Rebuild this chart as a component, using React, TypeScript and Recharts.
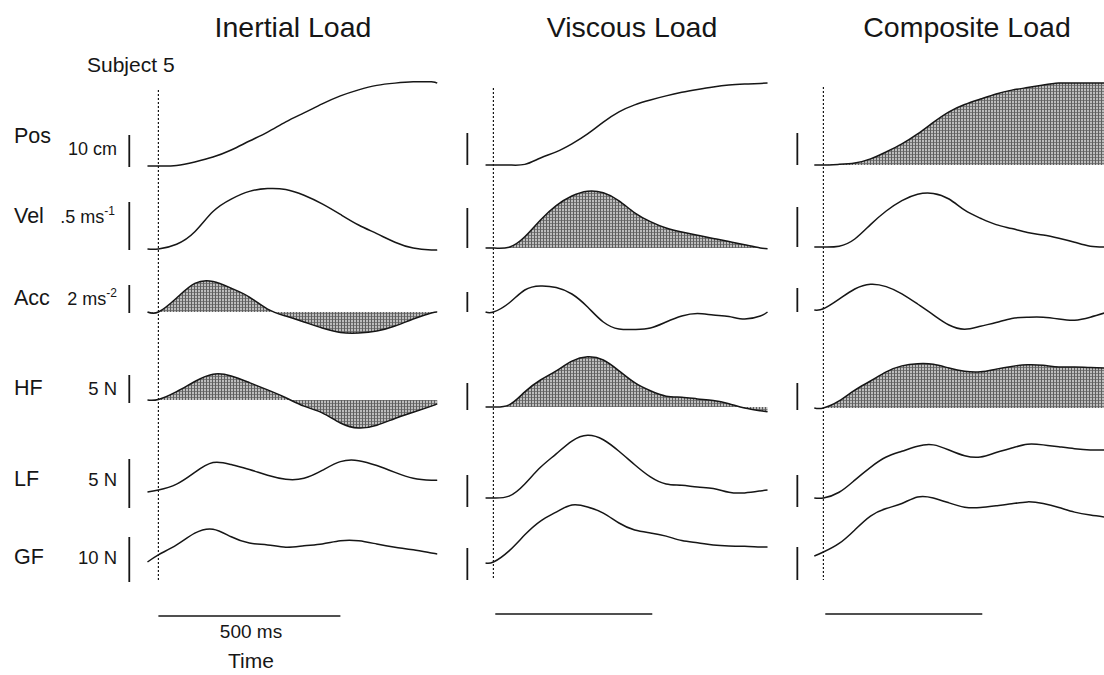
import React from 'react';
import { ComposedChart, Line, Area, XAxis, YAxis, ReferenceLine } from 'recharts';

// Subject 5 traces. Time in ms from movement onset (dotted line).
// Units: Pos cm, Vel m/s, Acc m/s², HF/LF/GF N (LF and GF relative to their start value).

const inertialTime = [-30, 0, 50, 100, 150, 200, 250, 300, 350, 400, 450, 500, 550, 600, 650, 700, 750, 766];
const inertialPos = [0, 0, 0.15, 1.25, 2.8, 5.0, 7.8, 10.6, 13.8, 16.6, 19.4, 21.9, 23.8, 25.2, 25.9, 26.3, 26.3, 25.9];
const inertialVel = [0, 0, 0.05, 0.18, 0.39, 0.52, 0.6, 0.63, 0.62, 0.56, 0.47, 0.36, 0.25, 0.16, 0.07, 0.01, -0.01, -0.01];
const inertialAcc = [0, 0, 1.0, 2.04, 2.18, 1.7, 1.07, 0.21, -0.29, -0.71, -1.14, -1.46, -1.5, -1.36, -1.0, -0.5, -0.07, 0];
const inertialHF = [0, 0.1, 1.5, 3.3, 4.6, 4.3, 3.1, 1.8, 0.4, -1.1, -2.3, -4.1, -5.0, -4.5, -3.3, -2.2, -1.1, -0.7];
const inertialLF = [0, 0.2, 0.8, 2.0, 3.0, 2.8, 2.3, 1.7, 1.3, 1.4, 2.2, 3.1, 3.2, 2.7, 2.0, 1.4, 1.2, 1.2];
const inertialGF = [0, 1.6, 3.8, 6.4, 7.3, 5.6, 4.2, 3.8, 3.3, 3.6, 4.0, 4.7, 4.7, 4.0, 3.3, 2.7, 2.0, 1.8];

const viscousTime = [-25, 0, 50, 100, 150, 200, 250, 300, 350, 400, 450, 500, 550, 600, 650, 700, 750, 800, 850, 873];
const viscousPos = [0, 0, 0, 0.2, 2.2, 4.1, 6.6, 9.7, 13.4, 16.6, 18.8, 20.3, 21.6, 22.7, 23.6, 24.4, 25.0, 25.3, 25.5, 25.6];
const viscousVel = [0, 0, 0.01, 0.14, 0.35, 0.53, 0.65, 0.71, 0.69, 0.59, 0.44, 0.33, 0.25, 0.2, 0.16, 0.12, 0.08, 0.04, 0, -0.01];
const viscousAcc = [0, 0, 0.9, 2.2, 2.6, 2.45, 1.8, 0.5, -1.0, -1.7, -1.75, -1.6, -1.0, -0.4, -0.15, -0.3, -0.45, -0.7, -0.4, 0];
const viscousHF = [0, 0, 0.4, 2.8, 5.0, 6.7, 8.5, 9.3, 8.7, 6.7, 4.5, 3.0, 2.0, 1.8, 1.5, 1.2, 0.6, -0.2, -0.7, -0.9];
const viscousLF = [0, 0, 0.3, 2.2, 4.8, 6.9, 8.9, 9.8, 9.1, 7.3, 5.2, 3.3, 2.2, 2.0, 1.7, 1.5, 0.9, 0.8, 1.1, 1.25];
const viscousGF = [0, 0.3, 3.8, 8.8, 13.1, 15.9, 18.1, 17.5, 15.6, 12.5, 10.3, 9.4, 8.4, 7.0, 6.3, 5.6, 5.3, 5.2, 5.0, 5.0];

const compositeTime = [-29, 0, 50, 100, 150, 200, 250, 300, 350, 400, 450, 500, 550, 600, 650, 700, 750, 800, 850, 895];
const compositePos = [0, 0, 0.2, 0.6, 1.9, 4.1, 6.6, 9.7, 13.3, 16.6, 18.9, 20.6, 22.2, 23.4, 24.2, 25.0, 25.6, 25.6, 25.6, 25.6];
const compositeVel = [0, 0, 0.01, 0.1, 0.28, 0.45, 0.58, 0.66, 0.67, 0.6, 0.46, 0.36, 0.28, 0.23, 0.18, 0.15, 0.11, 0.06, 0.01, 0];
const compositeAcc = [0, 0.1, 0.9, 1.75, 2.15, 1.95, 1.35, 0.5, -0.4, -1.25, -1.6, -1.35, -1.05, -0.7, -0.6, -0.6, -0.75, -0.85, -0.6, -0.25];
const compositeHF = [0, 0, 1.3, 3.3, 5.0, 6.7, 7.8, 8.2, 8.1, 7.4, 6.8, 6.7, 7.2, 7.7, 8.0, 7.9, 7.6, 7.6, 7.5, 7.4];
const compositeLF = [0, 0, 0.9, 2.8, 4.8, 6.4, 7.3, 8.1, 8.3, 7.5, 6.6, 6.4, 7.1, 7.8, 8.4, 8.3, 8.0, 7.7, 7.5, 7.5];
const compositeGF = [0, 1.2, 3.8, 7.9, 12.1, 14.4, 15.9, 17.9, 17.6, 16.1, 14.8, 14.7, 15.2, 15.8, 16.4, 15.9, 14.7, 13.3, 12.4, 11.8];

const ROW_KEYS = ['pos', 'vel', 'acc', 'hf', 'lf', 'gf'] as const;
type RowKey = (typeof ROW_KEYS)[number];

const ROW_LABELS = ['Pos', 'Vel', 'Acc', 'HF', 'LF', 'GF'];
const BAR_VALUES: Record<RowKey, number> = { pos: 10, vel: 0.5, acc: 2, hf: 5, lf: 5, gf: 10 };
const TIME_BAR_MS = 500;

// page layout (px)
const CHART_TOP = 70;
const CHART_BOTTOM = 630;
const FONT = '"Liberation Sans", Arial, Helvetica, sans-serif';
const INK = '#161616';

type RowLayout = { base: number; bar: [number, number] };

const columns = [
  {
    id: 'inertial',
    title: 'Inertial Load',
    titleX: 293,
    time: inertialTime,
    series: { pos: inertialPos, vel: inertialVel, acc: inertialAcc, hf: inertialHF, lf: inertialLF, gf: inertialGF },
    shaded: ['acc', 'hf'],
    zeroX: 158,
    pxPerMs: 0.364,
    tMin: -100,
    tMax: 790,
    barT: -80,
    dotted: [90, 582],
    timeBar: { y: 616, from: 0 },
    rows: {
      pos: { base: 166, bar: [135, 167] },
      vel: { base: 249, bar: [202, 250] },
      acc: { base: 312, bar: [285, 313] },
      hf: { base: 400, bar: [375, 403] },
      lf: { base: 492, bar: [459, 508] },
      gf: { base: 562, bar: [537, 582] },
    } as Record<RowKey, RowLayout>,
  },
  {
    id: 'viscous',
    title: 'Viscous Load',
    titleX: 632,
    time: viscousTime,
    series: { pos: viscousPos, vel: viscousVel, acc: viscousAcc, hf: viscousHF, lf: viscousLF, gf: viscousGF },
    shaded: ['vel', 'hf'],
    zeroX: 493,
    pxPerMs: 0.314,
    tMin: -100,
    tMax: 900,
    barT: -83,
    dotted: [88, 580],
    timeBar: { y: 614, from: 6 },
    rows: {
      pos: { base: 165, bar: [133, 165] },
      vel: { base: 248, bar: [208, 248] },
      acc: { base: 312, bar: [292, 312] },
      hf: { base: 407, bar: [383, 410] },
      lf: { base: 498, bar: [475, 507] },
      gf: { base: 563, bar: [548, 580] },
    } as Record<RowKey, RowLayout>,
  },
  {
    id: 'composite',
    title: 'Composite Load',
    titleX: 967,
    time: compositeTime,
    series: { pos: compositePos, vel: compositeVel, acc: compositeAcc, hf: compositeHF, lf: compositeLF, gf: compositeGF },
    shaded: ['pos', 'hf'],
    zeroX: 823,
    pxPerMs: 0.314,
    tMin: -100,
    tMax: 900,
    barT: -83,
    dotted: [87, 580],
    timeBar: { y: 614, from: 6 },
    rows: {
      pos: { base: 165, bar: [133, 165] },
      vel: { base: 247, bar: [207, 247] },
      acc: { base: 310, bar: [288, 312] },
      hf: { base: 408, bar: [383, 410] },
      lf: { base: 498, bar: [475, 507] },
      gf: { base: 556, bar: [547, 580] },
    } as Record<RowKey, RowLayout>,
  },
];

type Column = (typeof columns)[number];

function pxPerUnit(col: Column, key: RowKey) {
  const r = col.rows[key];
  return (r.bar[1] - r.bar[0]) / BAR_VALUES[key];
}

// page y (px) -> value on that row's axis
function valueAt(col: Column, key: RowKey, px: number) {
  return (col.rows[key].base - px) / pxPerUnit(col, key);
}

function Panel({ col }: { col: Column }) {
  const width = (col.tMax - col.tMin) * col.pxPerMs;
  const left = col.zeroX + col.tMin * col.pxPerMs;
  const data = col.time.map((t, i) => {
    const row: Record<string, number> = { t };
    ROW_KEYS.forEach((k) => {
      row[k] = (col.series as Record<RowKey, number[]>)[k][i];
    });
    return row;
  });
  const patternId = `stipple-${col.id}`;

  return (
    <div style={{ position: 'absolute', left, top: CHART_TOP }}>
      <ComposedChart width={width} height={CHART_BOTTOM - CHART_TOP} data={data} margin={{ top: 0, right: 0, bottom: 0, left: 0 }}>
        <defs>
          <pattern id={patternId} width="3" height="3" patternUnits="userSpaceOnUse">
            <rect width="3" height="3" fill="#bdbdbd" />
            <rect width="3" height="1" fill="#7a7a7a" />
            <rect width="1" height="3" fill="#5e5e5e" />
          </pattern>
        </defs>
        <XAxis dataKey="t" type="number" domain={[col.tMin, col.tMax]} hide allowDataOverflow />
        {ROW_KEYS.map((k) => (
          <YAxis
            key={k}
            yAxisId={k}
            type="number"
            hide
            allowDataOverflow
            domain={[valueAt(col, k, CHART_BOTTOM), valueAt(col, k, CHART_TOP)]}
          />
        ))}

        {/* movement onset */}
        <ReferenceLine
          yAxisId="pos"
          segment={[
            { x: 0, y: valueAt(col, 'pos', col.dotted[0]) },
            { x: 0, y: valueAt(col, 'pos', col.dotted[1]) },
          ]}
          stroke={INK}
          strokeWidth={1.2}
          strokeDasharray="2 2"
        />

        {/* vertical scale bars */}
        {ROW_KEYS.map((k) => (
          <ReferenceLine
            key={`bar-${k}`}
            yAxisId={k}
            segment={[
              { x: col.barT, y: valueAt(col, k, col.rows[k].bar[0]) },
              { x: col.barT, y: valueAt(col, k, col.rows[k].bar[1]) },
            ]}
            stroke={INK}
            strokeWidth={1.8}
          />
        ))}

        {/* time scale bar */}
        <ReferenceLine
          yAxisId="pos"
          segment={[
            { x: col.timeBar.from, y: valueAt(col, 'pos', col.timeBar.y) },
            { x: col.timeBar.from + TIME_BAR_MS, y: valueAt(col, 'pos', col.timeBar.y) },
          ]}
          stroke={INK}
          strokeWidth={1.5}
        />

        {ROW_KEYS.map((k) =>
          col.shaded.includes(k) ? (
            <Area
              key={k}
              yAxisId={k}
              dataKey={k}
              type="natural"
              baseValue={0}
              stroke={INK}
              strokeWidth={1.5}
              fill={`url(#${patternId})`}
              fillOpacity={1}
              dot={false}
              activeDot={false}
              isAnimationActive={false}
            />
          ) : (
            <Line
              key={k}
              yAxisId={k}
              dataKey={k}
              type="natural"
              stroke={INK}
              strokeWidth={1.5}
              dot={false}
              activeDot={false}
              isAnimationActive={false}
            />
          ),
        )}
      </ComposedChart>
    </div>
  );
}

// label positions in column 1 (baselines)
const LABEL_BASELINES = [143, 223, 305, 395, 486, 564];

export default function App() {
  return (
    <div
      style={{
        position: 'absolute',
        left: 0,
        top: 0,
        width: 1104,
        height: 675,
        overflow: 'hidden',
        background: '#fff',
        fontFamily: FONT,
      }}
    >
      {columns.map((c) => (
        <Panel key={c.id} col={c} />
      ))}

      <svg width={1104} height={675} style={{ position: 'absolute', left: 0, top: 0, pointerEvents: 'none' }}>
        <g fontFamily={FONT} fill={INK}>
          {columns.map((c) => (
            <text key={c.id} x={c.titleX} y={37} fontSize={28.5} textAnchor="middle">
              {c.title}
            </text>
          ))}
          <text x={87} y={72} fontSize={21}>
            Subject 5
          </text>

          {ROW_LABELS.map((l, i) => (
            <text key={l} x={14} y={LABEL_BASELINES[i]} fontSize={21.5}>
              {l}
            </text>
          ))}

          <text x={117} y={155} fontSize={18} textAnchor="end">10 cm</text>
          <text x={115} y={223} fontSize={18} textAnchor="end">
            .5 ms<tspan fontSize={12} dy={-8}>-1</tspan>
          </text>
          <text x={117} y={305} fontSize={18} textAnchor="end">
            2 ms<tspan fontSize={12} dy={-8}>-2</tspan>
          </text>
          <text x={117} y={395} fontSize={18.5} textAnchor="end">5 N</text>
          <text x={117} y={486} fontSize={18.5} textAnchor="end">5 N</text>
          <text x={117} y={564} fontSize={18.5} textAnchor="end">10 N</text>

          <text x={251} y={638} fontSize={19} textAnchor="middle">500 ms</text>
          <text x={251} y={668} fontSize={21} textAnchor="middle">Time</text>
        </g>
      </svg>
    </div>
  );
}
